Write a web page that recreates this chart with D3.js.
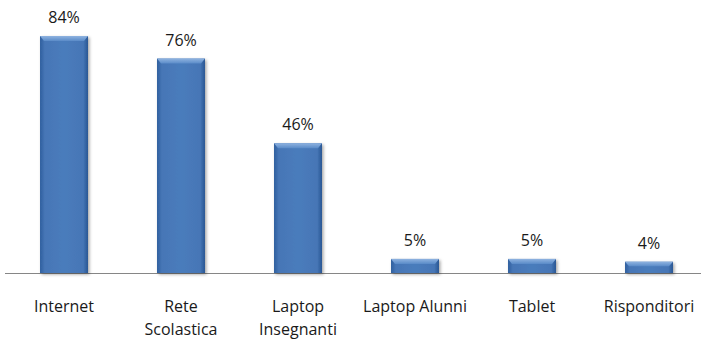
<!DOCTYPE html>
<html><head><meta charset="utf-8">
<script src="https://cdn.jsdelivr.net/npm/d3@7"></script>
<style>body{margin:0;background:#fff}svg{display:block}</style>
</head><body>
<script>
const categories = ["Internet", "Rete Scolastica", "Laptop Insegnanti", "Laptop Alunni", "Tablet", "Risponditori"];
const tickLabels = [["Internet"], ["Rete", "Scolastica"], ["Laptop", "Insegnanti"], ["Laptop Alunni"], ["Tablet"], ["Risponditori"]];
const values = [84, 76, 46, 5, 5, 4];

const W = 701, H = 340;
const FONT = "'Open Sans', 'Noto Sans', sans-serif";
const svg = d3.select("body").append("svg").attr("width", W).attr("height", H);
const defs = svg.append("defs");
const g1 = defs.append("linearGradient").attr("id", "bh").attr("x1", 0).attr("x2", 1).attr("y1", 0).attr("y2", 0);
[[0, "#2f5f9e"], [0.1, "#4676b6"], [0.5, "#4a7cbc"], [0.9, "#4676b6"], [1, "#2a5693"]].forEach(s => g1.append("stop").attr("offset", s[0]).attr("stop-color", s[1]));
const g2 = defs.append("linearGradient").attr("id", "bt").attr("x1", 0).attr("x2", 0).attr("y1", 0).attr("y2", 1);
[[0, "#8fb3e0"], [1, "#5a8bc8"]].forEach(s => g2.append("stop").attr("offset", s[0]).attr("stop-color", s[1]));
const f = defs.append("filter").attr("id", "sh").attr("x", "-20%").attr("y", "-20%").attr("width", "150%").attr("height", "150%");
f.append("feDropShadow").attr("dx", 1.5).attr("dy", 1.5).attr("stdDeviation", 1.5).attr("flood-color", "#000").attr("flood-opacity", 0.35);

const x = d3.scaleBand().domain(categories).range([5.5, 707.5]).paddingInner(0.59).paddingOuter(0.295);
const y = d3.scaleLinear().domain([0, 84]).range([273, 36]);

svg.append("line").attr("x1", 5).attr("x2", 701).attr("y1", 273.5).attr("y2", 273.5).attr("stroke", "#868686").attr("stroke-width", 1);

const bars = svg.selectAll("g.bar").data(categories).join("g").attr("class", "bar");
bars.append("rect")
  .attr("x", d => x(d)).attr("width", x.bandwidth())
  .attr("y", (d, i) => y(values[i])).attr("height", (d, i) => y(0) - y(values[i]))
  .attr("fill", "url(#bh)").attr("filter", "url(#sh)");
bars.append("path")
  .attr("d", (d, i) => {
    const x0 = x(d), x1 = x0 + x.bandwidth(), t = y(values[i]);
    const b = Math.min(5, (y(0) - t) / 2.5);
    return `M${x0},${t}L${x1},${t}L${x1 - 4},${t + b}L${x0 + 4},${t + b}Z`;
  })
  .attr("fill", "url(#bt)");

svg.selectAll("text.val").data(categories).join("text").attr("class", "val")
  .attr("x", d => x(d) + x.bandwidth() / 2)
  .attr("y", (d, i) => y(values[i]) - 13)
  .attr("text-anchor", "middle").attr("font-family", FONT)
  .attr("font-size", 16).attr("fill", "#1a1a1a")
  .text((d, i) => values[i] + "%");

const lab = svg.selectAll("text.cat").data(categories).join("text").attr("class", "cat")
  .attr("x", d => x(d) + x.bandwidth() / 2).attr("y", 312)
  .attr("text-anchor", "middle").attr("font-family", FONT)
  .attr("font-size", 16).attr("fill", "#1a1a1a");
lab.each(function(d, i) {
  d3.select(this).selectAll("tspan").data(tickLabels[i]).join("tspan")
    .attr("x", x(d) + x.bandwidth() / 2).attr("dy", (t, j) => j === 0 ? 0 : 23).text(t => t);
});
</script>
</body></html>
